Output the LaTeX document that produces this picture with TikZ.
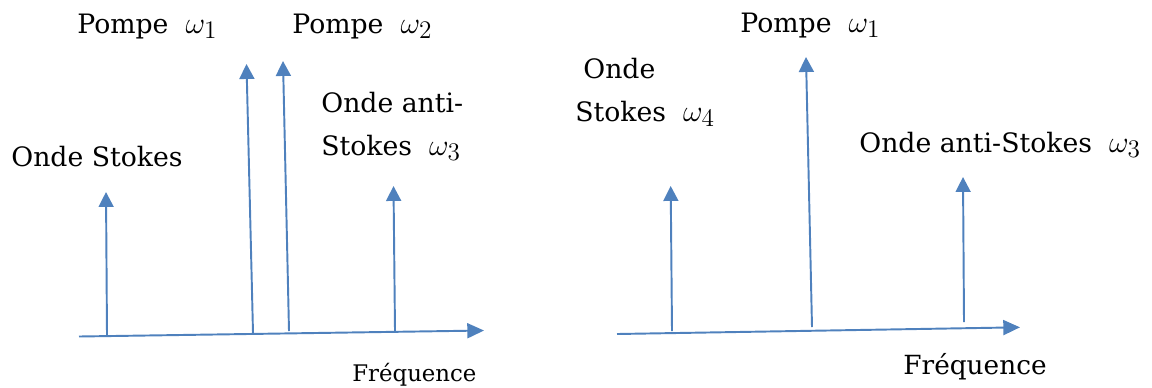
\documentclass[tikz,border=0pt]{standalone}
\usepackage{fontspec}
\setmainfont{DejaVu Serif}
\usetikzlibrary{arrows.meta}
\definecolor{spikeblue}{RGB}{79,129,189}
% frequency symbol omega_n, set a bit larger than the words around it
\newcommand\freqsym[1]{{\fontsize{19pt}{20pt}\selectfont$\omega_{#1}$}}
\begin{document}
\begin{tikzpicture}[x=0.02cm,y=-0.02cm,
  spike/.style={draw=spikeblue,line width=1.1pt,-{Triangle[length=8.5pt,width=8.5pt]}},
  axis/.style={draw=spikeblue,line width=1.1pt,-{Triangle[length=9.5pt,width=8.5pt]}},
  lbl/.style={anchor=base west,inner sep=0pt,font=\fontsize{15.2pt}{18pt}\selectfont},
  freqlbl/.style={anchor=base west,inner sep=0pt,font=\fontsize{13pt}{16pt}\selectfont},
  bigfreqlbl/.style={anchor=base west,inner sep=0pt,font=\fontsize{15pt}{18pt}\selectfont}]
\useasboundingbox (0,0) rectangle (1152,387);

% ---- first spectrum: two pumps ----
\coordinate (axL0) at (79,336.5);
\coordinate (axL1) at (484,330.5);
\draw[axis] (axL0) -- (axL1);

\coordinate (sL0) at (107,335);  \coordinate (sL1) at (106,192);
\coordinate (pA0) at (253,333);  \coordinate (pA1) at (246.5,64);
\coordinate (pB0) at (289,331);  \coordinate (pB1) at (283,61);
\coordinate (aL0) at (395,331);  \coordinate (aL1) at (393.5,186);
\draw[spike] (sL0) -- (sL1);
\draw[spike] (pA0) -- (pA1);
\draw[spike] (pB0) -- (pB1);
\draw[spike] (aL0) -- (aL1);

\node[lbl] (pompeA) at (77,33) {Pompe\ \ \freqsym{1}};
\node[lbl] (pompeB) at (292,33) {Pompe\ \ \freqsym{2}};
\node[lbl] (antiLa) at (321,112) {Onde anti-};
\node[lbl] (antiLb) at (321,155) {Stokes\ \ \freqsym{3}};
\node[lbl] (stokesL) at (11,166) {Onde Stokes};
\node[freqlbl] (freqL) at (352,381.5) {Fréquence};

% ---- second spectrum: one pump ----
\coordinate (axR0) at (617,334);
\coordinate (axR1) at (1020,327.3);
\draw[axis] (axR0) -- (axR1);

\coordinate (sR0) at (672,331);  \coordinate (sR1) at (670.7,186);
\coordinate (pR0) at (812,327);  \coordinate (pR1) at (806,57);
\coordinate (aR0) at (964,322);  \coordinate (aR1) at (963,177);
\draw[spike] (sR0) -- (sR1);
\draw[spike] (pR0) -- (pR1);
\draw[spike] (aR0) -- (aR1);

\node[lbl] (pompeR) at (740,32) {Pompe\ \ \freqsym{1}};
\node[lbl] (stokesRa) at (583,78) {Onde};
\node[lbl] (stokesRb) at (575,121) {Stokes\ \ \freqsym{4}};
\node[lbl] (antiR) at (859,152) {Onde anti-Stokes\ \ \freqsym{3}};
\node[bigfreqlbl] (freqR) at (903,374) {Fréquence};
\end{tikzpicture}
\end{document}
